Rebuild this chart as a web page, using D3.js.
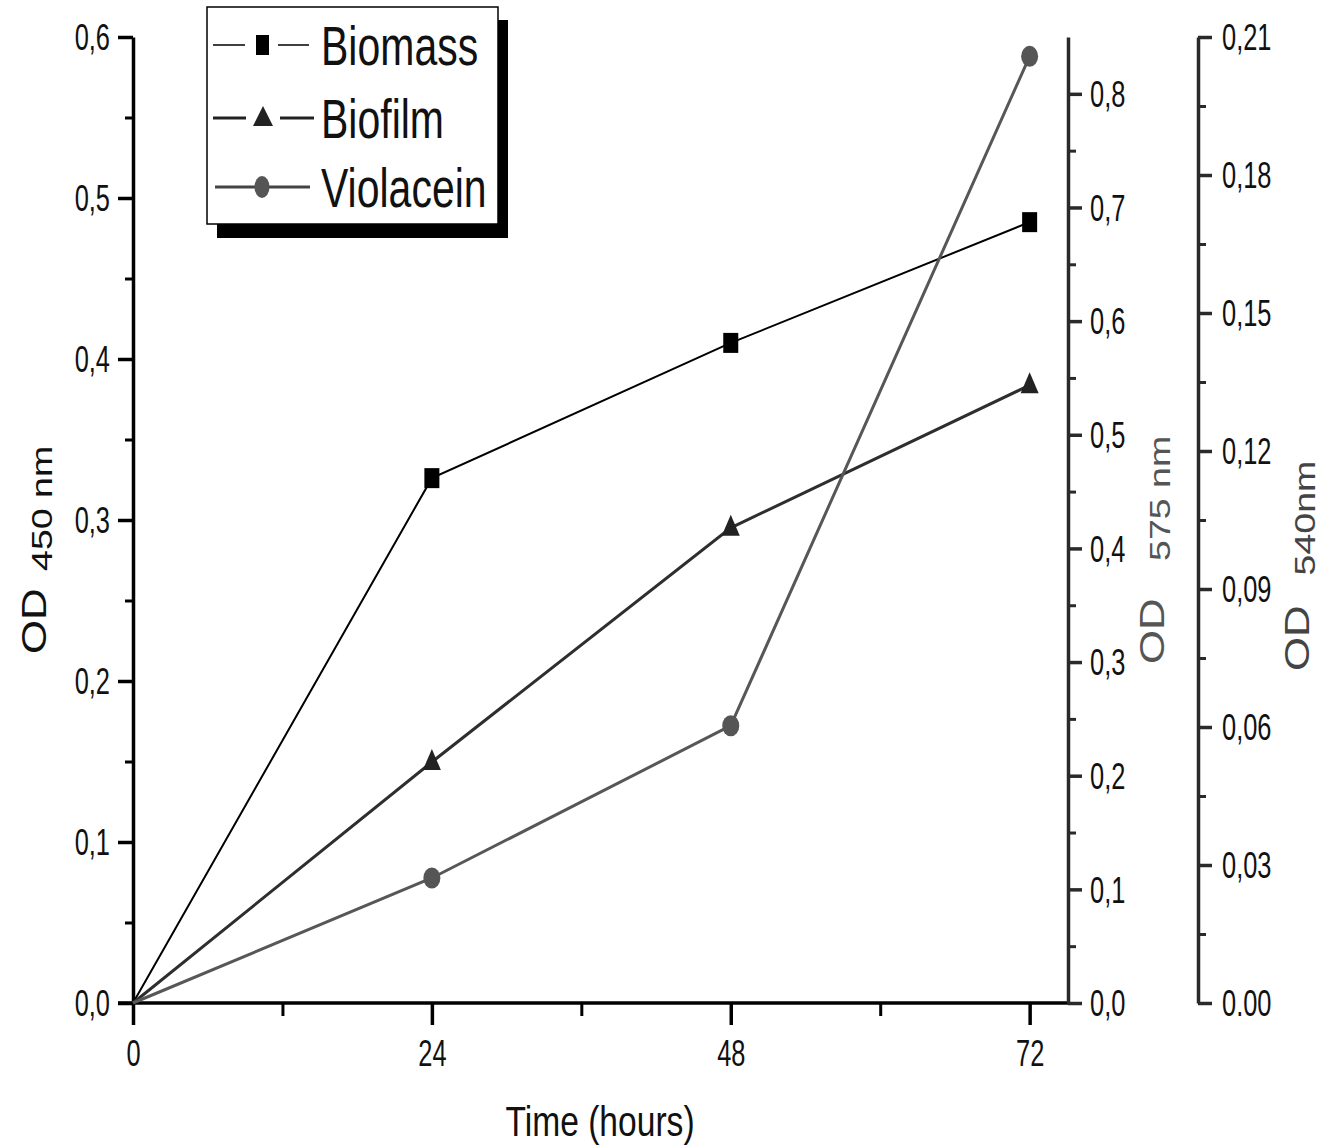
<!DOCTYPE html>
<html>
<head>
<meta charset="utf-8">
<script src="https://cdn.jsdelivr.net/npm/d3@7"></script>
<style>
  body { margin: 0; background: #fff; }
  svg { display: block; }
</style>
</head>
<body>
<div id="chart"></div>
<script>
// data
var hours = [0, 24, 48, 72];
var biomass = [0, 0.326, 0.410, 0.485];        // OD 450 nm (left axis)
var violacein = [0, 0.110, 0.244, 0.833];      // OD 575 nm (middle axis)
var biofilm = [0, 0.0524, 0.1033, 0.1343];     // OD 540 nm (right axis)

var xTicks = [0, 24, 48, 72];
var xMinor = [12, 36, 60];
var leftTicks = [0, 0.1, 0.2, 0.3, 0.4, 0.5, 0.6];
var leftLabels = ["0,0", "0,1", "0,2", "0,3", "0,4", "0,5", "0,6"];
var midTicks = [0, 0.1, 0.2, 0.3, 0.4, 0.5, 0.6, 0.7, 0.8];
var midLabels = ["0,0", "0,1", "0,2", "0,3", "0,4", "0,5", "0,6", "0,7", "0,8"];
var rightTicks = [0, 0.03, 0.06, 0.09, 0.12, 0.15, 0.18, 0.21];
var rightLabels = ["0.00", "0,03", "0,06", "0,09", "0,12", "0,15", "0,18", "0,21"];
var legendNames = ["Biomass", "Biofilm", "Violacein"];

var svgWidth = 1332;
var svgHeight = 1147;
var sans = "'Liberation Sans', Arial, sans-serif";

var svg = d3.select("#chart")
  .append("svg")
  .attr("width", svgWidth)
  .attr("height", svgHeight);

var x = d3.scaleLinear().domain([0, 75]).range([133, 1067]);
var yLeft = d3.scaleLinear().domain([0, 0.6]).range([1003, 37]);
var yMid = d3.scaleLinear().domain([0, 0.85]).range([1003, 37]);
var yRight = d3.scaleLinear().domain([0, 0.21]).range([1003, 37]);

function styleAxis(g, color, width) {
  g.selectAll("path, line").attr("stroke", color).attr("stroke-width", width);
  g.selectAll("text")
    .attr("fill", "#111")
    .style("font-family", sans)
    .style("font-size", "31px");
}

// condensed look: squeeze the labels sideways, stretch them a bit upward
function squeeze(g, dx, dy) {
  g.selectAll("text")
    .attr("x", 0).attr("y", 0)
    .attr("transform", "translate(" + dx + "," + dy + ") scale(0.82,1.2)");
}

// minor ticks first so majors sit on top
svg.append("g")
  .attr("transform", "translate(0,1003)")
  .call(d3.axisBottom(x).tickValues(xMinor).tickSize(13).tickSizeOuter(0).tickFormat(""))
  .call(function(g) { styleAxis(g, "#000", 3); g.select(".domain").remove(); });

var xAxis = svg.append("g")
  .attr("transform", "translate(0,1003)")
  .call(d3.axisBottom(x).tickValues(xTicks).tickSize(22).tickSizeOuter(0).tickFormat(d3.format("d")));
styleAxis(xAxis, "#000", 3.5);
xAxis.select(".domain").attr("d", "M118,0H1068");
xAxis.selectAll("text").attr("dy", null);
squeeze(xAxis, 0, 63);

// left axis
svg.append("g")
  .attr("transform", "translate(133,0)")
  .call(d3.axisLeft(yLeft).tickValues(d3.range(0.05, 0.6, 0.1)).tickSize(8).tickSizeOuter(0).tickFormat(""))
  .call(function(g) { styleAxis(g, "#000", 3); g.select(".domain").remove(); });

var yAxisL = svg.append("g")
  .attr("transform", "translate(133,0)")
  .call(d3.axisLeft(yLeft).tickValues(leftTicks).tickSize(15).tickSizeOuter(0)
    .tickFormat(function(d, i) { return leftLabels[i]; }));
styleAxis(yAxisL, "#000", 3.5);
yAxisL.selectAll("text").attr("dy", "0.34em");
squeeze(yAxisL, -23, 0);

// middle axis (575 nm)
svg.append("g")
  .attr("transform", "translate(1068,0)")
  .call(d3.axisRight(yMid).tickValues(d3.range(0.05, 0.85, 0.1)).tickSize(8).tickSizeOuter(0).tickFormat(""))
  .call(function(g) { styleAxis(g, "#2a2a2a", 3); g.select(".domain").remove(); });

var yAxisM = svg.append("g")
  .attr("transform", "translate(1068,0)")
  .call(d3.axisRight(yMid).tickValues(midTicks).tickSize(14).tickSizeOuter(0)
    .tickFormat(function(d, i) { return midLabels[i]; }));
styleAxis(yAxisM, "#2a2a2a", 3.5);
yAxisM.selectAll("text").attr("dy", "0.34em");
squeeze(yAxisM, 22, 0);

// right axis (540 nm)
svg.append("g")
  .attr("transform", "translate(1198,0)")
  .call(d3.axisRight(yRight).tickValues(d3.range(0.015, 0.21, 0.03)).tickSize(8).tickSizeOuter(0).tickFormat(""))
  .call(function(g) { styleAxis(g, "#2a2a2a", 3); g.select(".domain").remove(); });

var yAxisR = svg.append("g")
  .attr("transform", "translate(1198,0)")
  .call(d3.axisRight(yRight).tickValues(rightTicks).tickSize(14).tickSizeOuter(0)
    .tickFormat(function(d, i) { return rightLabels[i]; }));
styleAxis(yAxisR, "#2a2a2a", 3.5);
yAxisR.selectAll("text").attr("dy", "0.34em");
squeeze(yAxisR, 24, 0);

// axis titles
svg.append("text")
  .attr("transform", "translate(600,1136) scale(0.84,1.08)")
  .attr("text-anchor", "middle")
  .style("font-family", sans)
  .style("font-size", "40px")
  .attr("fill", "#111")
  .text("Time (hours)");

function odLabel(px, py, sub, gap, color) {
  var t = svg.append("text")
    .attr("transform", "translate(" + px + "," + py + ") rotate(-90) scale(1.25,1)")
    .style("font-family", sans)
    .attr("fill", color);
  t.append("tspan").style("font-size", "35px").text("OD");
  t.append("tspan").attr("dx", gap).attr("dy", 6).style("font-size", "30px").text(sub);
}
odLabel(46, 654, "450 nm", 14, "#111");
odLabel(1164, 664, "575 nm", 30, "#555");
odLabel(1309, 671, "540nm", 24, "#444");

// series lines
var series = [
  { values: biomass, y: yLeft, color: "#000", width: 2 },
  { values: biofilm, y: yRight, color: "#2e2e2e", width: 3 },
  { values: violacein, y: yMid, color: "#575757", width: 3 }
];

series.forEach(function(s) {
  var line = d3.line()
    .x(function(d, i) { return x(hours[i]); })
    .y(function(d) { return s.y(d); });
  svg.append("path")
    .datum(s.values)
    .attr("fill", "none")
    .attr("stroke", s.color)
    .attr("stroke-width", s.width)
    .attr("d", line);
});

// markers (skip the origin point)
svg.selectAll(".sq")
  .data(biomass.slice(1))
  .enter()
  .append("rect")
  .attr("x", function(d, i) { return x(hours[i + 1]) - 7.5; })
  .attr("y", function(d) { return yLeft(d) - 10; })
  .attr("width", 15)
  .attr("height", 20)
  .attr("fill", "#000");

var tri = "M0,-13L9,8L-9,8Z";
svg.selectAll(".tri")
  .data(biofilm.slice(1))
  .enter()
  .append("path")
  .attr("d", tri)
  .attr("transform", function(d, i) { return "translate(" + x(hours[i + 1]) + "," + yRight(d) + ")"; })
  .attr("fill", "#222");

svg.selectAll(".dot")
  .data(violacein.slice(1))
  .enter()
  .append("ellipse")
  .attr("cx", function(d, i) { return x(hours[i + 1]); })
  .attr("cy", function(d) { return yMid(d); })
  .attr("rx", 8.5)
  .attr("ry", 10.5)
  .attr("fill", "#555");

// legend
var legend = svg.append("g");
legend.append("rect")
  .attr("x", 217).attr("y", 20).attr("width", 291).attr("height", 218)
  .attr("fill", "#000");
legend.append("rect")
  .attr("x", 207).attr("y", 7).attr("width", 291).attr("height", 217)
  .attr("fill", "#fff").attr("stroke", "#000").attr("stroke-width", 1.5);

var rowY = [45, 118, 187];
// Biomass row
legend.append("path").attr("d", "M213,45H245M278,45H309").attr("stroke", "#000").attr("stroke-width", 1.5);
legend.append("rect").attr("x", 256).attr("y", 35).attr("width", 13).attr("height", 20).attr("fill", "#000");
// Biofilm row
legend.append("path").attr("d", "M213,118H246M280,118H314").attr("stroke", "#222").attr("stroke-width", 3);
legend.append("path").attr("d", "M0,-11L10,9L-10,9Z").attr("transform", "translate(263,117)").attr("fill", "#222");
// Violacein row
legend.append("path").attr("d", "M215,187H310").attr("stroke", "#444").attr("stroke-width", 3);
legend.append("ellipse").attr("cx", 262).attr("cy", 187).attr("rx", 7.5).attr("ry", 11).attr("fill", "#555");

legend.selectAll(".lt")
  .data(legendNames)
  .enter()
  .append("text")
  .attr("transform", function(d, i) { return "translate(321," + (rowY[i] + 20) + ") scale(0.82,1.12)"; })
  .style("font-family", sans)
  .style("font-size", "50px")
  .attr("fill", "#111")
  .text(function(d) { return d; });
</script>
</body>
</html>
